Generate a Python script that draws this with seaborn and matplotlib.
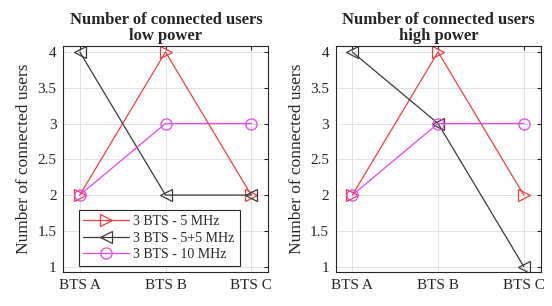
import matplotlib
matplotlib.use("Agg")
import matplotlib.pyplot as plt
import numpy as np
import pandas as pd
import seaborn as sns

bts = ["BTS A", "BTS B", "BTS C"]
series_names = ["3 BTS - 5 MHz", "3 BTS - 5+5 MHz", "3 BTS - 10 MHz"]

# low power
low_5 = [2, 4, 2]
low_55 = [4, 2, 2]
low_10 = [2, 3, 3]
# high power
high_5 = [2, 4, 2]
high_55 = [4, 3, 1]
high_10 = [2, 3, 3]

colors = ["#e8403f", "#3a3a3a", "#e545e8"]
markers = [">", "<", "o"]

sns.set_style("whitegrid")
plt.rcParams["font.family"] = ["Liberation Serif", "DejaVu Serif"]

fig, axes = plt.subplots(1, 2, figsize=(5.52, 3.06), dpi=100)
fig.subplots_adjust(left=0.115, right=0.98, top=0.85, bottom=0.11, wspace=0.33)

panels = [
    ("Number of connected users\nlow power", [low_5, low_55, low_10]),
    ("Number of connected users\nhigh power", [high_5, high_55, high_10]),
]

for ax, (title, vals) in zip(axes, panels):
    for name, v, c, m in zip(series_names, vals, colors, markers):
        df = pd.DataFrame({"x": np.arange(len(bts)), "y": v})
        sns.lineplot(data=df, x="x", y="y", ax=ax, color=c, marker=m,
                     markersize=8, markerfacecolor="none", markeredgecolor=c,
                     markeredgewidth=0.9, linewidth=0.9, label=name)
    ax.set_xticks(range(len(bts)))
    ax.set_xticklabels(bts)
    ax.set_xlim(-0.19, 2.2)
    ax.set_ylim(0.92, 4.085)
    ax.set_yticks([1, 1.5, 2, 2.5, 3, 3.5, 4])
    ax.set_yticklabels(["1", "1.5", "2", "2.5", "3", "3.5", "4"])
    ax.set_xlabel("")
    ax.set_ylabel("Number of connected users", fontsize=12.5, labelpad=4)
    ax.set_title(title, fontsize=12, fontweight="bold", pad=4, linespacing=1.05)
    ax.tick_params(labelsize=11, direction="in", length=3, top=True, right=True,
                   colors="#262626", pad=5)
    ax.grid(True, color="#e2e2e2", linewidth=0.7)
    for s in ax.spines.values():
        s.set_color("#262626")
        s.set_linewidth(0.8)

axes[1].get_legend().remove()
leg = axes[0].legend(loc="lower left", bbox_to_anchor=(0.06, 0.015), fontsize=10,
                     frameon=True, fancybox=False, framealpha=1,
                     edgecolor="#262626", borderpad=0.35, labelspacing=0.25,
                     handlelength=3.3, handletextpad=0.3, borderaxespad=0.2)
leg.get_frame().set_linewidth(0.8)

fig.savefig("out.png", dpi=100)
